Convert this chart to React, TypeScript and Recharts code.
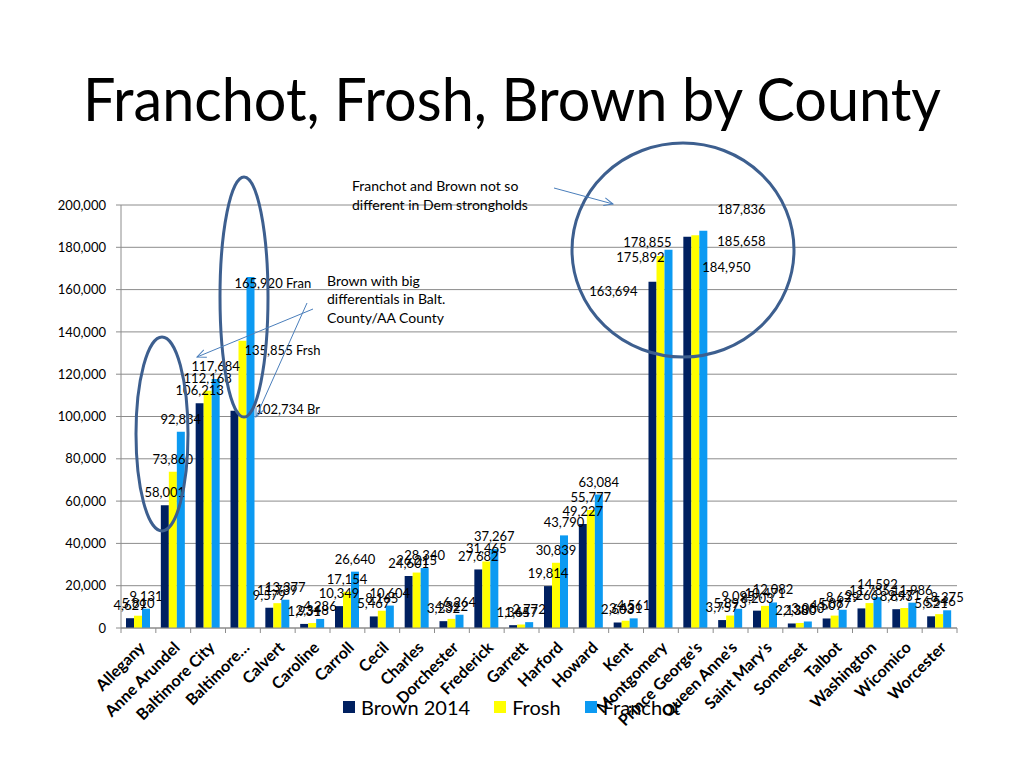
import { BarChart, Bar, XAxis, YAxis, CartesianGrid, Legend, LabelList } from 'recharts'

const counties = [
  'Allegany', 'Anne Arundel', 'Baltimore City', 'Baltimore…', 'Calvert', 'Caroline',
  'Carroll', 'Cecil', 'Charles', 'Dorchester', 'Frederick', 'Garrett', 'Harford',
  'Howard', 'Kent', 'Montgomery', "Prince George's", "Queen Anne's", "Saint Mary's",
  'Somerset', 'Talbot', 'Washington', 'Wicomico', 'Worcester',
]

const brown2014 = [
  4629, 58001, 106213, 102734, 9579, 1931, 10349, 5467, 24601, 3232, 27682, 1345,
  19814, 49227, 2603, 163694, 184950, 3757, 8203, 2138, 4507, 9266, 8893, 5521,
]
const frosh = [
  5810, 73860, 112168, 135855, 11739, 2348, 17154, 8165, 26215, 4322, 31465, 1647,
  30839, 55777, 3431, 175892, 185658, 5893, 10471, 2380, 5867, 11785, 9471, 6546,
]
const franchot = [
  9131, 92834, 117684, 165920, 13377, 4286, 26640, 10604, 28340, 6264, 37267, 2772,
  43790, 63084, 4561, 178855, 187836, 9095, 12082, 3080, 8629, 14592, 11986, 8375,
]

const yTicks = [0, 20000, 40000, 60000, 80000, 100000, 120000, 140000, 160000, 180000, 200000]

const chartData = counties.map((county, i) => ({
  county,
  brown: brown2014[i],
  frosh: frosh[i],
  franchot: franchot[i],
}))

const seriesValues: Record<string, number[]> = { brown: brown2014, frosh, franchot }

const COLORS = { brown: '#002060', frosh: '#FFFF00', franchot: '#0C9AF2' }
const legendItems = [
  { name: 'Brown 2014', color: COLORS.brown },
  { name: 'Frosh', color: COLORS.frosh },
  { name: 'Franchot', color: COLORS.franchot },
]
const GRID = '#8C8C8C'
const FONT = 'Lato, "Open Sans", sans-serif'

const PLOT_LEFT = 121
const PLOT_RIGHT = 957
const BAND = (PLOT_RIGHT - PLOT_LEFT) / counties.length
const LEGEND_H = 26

// hand-moved labels in the original slide
const LABEL_TWEAKS: Record<string, { dx: number; dy: number; anchor: 'start' | 'end'; suffix?: string }> = {
  'brown:Baltimore…': { dx: 21, dy: -2, anchor: 'start', suffix: ' Br' },
  'frosh:Baltimore…': { dx: 2, dy: 9, anchor: 'start', suffix: ' Frsh' },
  'franchot:Baltimore…': { dx: -16, dy: 6, anchor: 'start', suffix: ' Fran' },
  'brown:Montgomery': { dx: -15, dy: 9, anchor: 'end' },
  'frosh:Montgomery': { dx: 4, dy: 1, anchor: 'end' },
  'franchot:Montgomery': { dx: 3, dy: -8, anchor: 'end' },
  "brown:Prince George's": { dx: 15, dy: 30, anchor: 'start' },
  "frosh:Prince George's": { dx: 22, dy: 6, anchor: 'start' },
  "franchot:Prince George's": { dx: 14, dy: -22, anchor: 'start' },
}

const makeLabel = (series: string) => (props: any) => {
  const vb = props.viewBox ?? props
  const x = Number(vb.x ?? props.x)
  const y = Number(vb.y ?? props.y)
  const w = Number(vb.width ?? props.width)
  const value = Number(props.value)
  let idx = props.index
  if (idx === undefined || idx === null) idx = seriesValues[series].indexOf(value)
  const tweak = LABEL_TWEAKS[`${series}:${counties[idx]}`]
  const cx = x + w / 2
  return (
    <text
      x={cx + (tweak?.dx ?? 0)}
      y={y + (tweak?.dy ?? -13)}
      textAnchor={tweak?.anchor ?? 'middle'}
      dominantBaseline="central"
      fontSize={13}
      fontFamily={FONT}
      fill="#000"
    >
      {value.toLocaleString('en-US') + (tweak?.suffix ?? '')}
    </text>
  )
}

const CountyTick = (props: any) => {
  const { x, y, payload, index } = props
  const ax = x + 3
  const ay = y + 16
  return (
    <g>
      <line x1={x - BAND / 2} x2={x - BAND / 2} y1={y} y2={y + 5} stroke={GRID} />
      {index === counties.length - 1 && (
        <line x1={x + BAND / 2} x2={x + BAND / 2} y1={y} y2={y + 5} stroke={GRID} />
      )}
      <text
        x={ax}
        y={ay}
        transform={`rotate(-45 ${ax} ${ay})`}
        textAnchor="end"
        dominantBaseline="central"
        fontSize={16}
        fontWeight="bold"
        fontFamily={FONT}
        fill="#000"
      >
        {payload.value}
      </text>
    </g>
  )
}

const LegendRow = () => (
  <div style={{ display: 'flex', fontFamily: FONT, fontSize: 20, color: '#000', height: LEGEND_H }}>
    {legendItems.map((item) => (
      <div key={item.name} style={{ display: 'flex', alignItems: 'center', marginRight: 24 }}>
        <span style={{ width: 12, height: 12, background: item.color, marginRight: 6 }} />
        <span>{item.name}</span>
      </div>
    ))}
  </div>
)

export default function App() {
  return (
    <div style={{ position: 'absolute', left: 0, top: 0, width: 1024, height: 768, background: '#fff' }}>
      <BarChart
        width={1024}
        height={768}
        data={chartData}
        margin={{ top: 205, right: 1024 - PLOT_RIGHT, bottom: 0, left: 0 }}
        barGap={0}
      >
        <CartesianGrid vertical={false} stroke={GRID} />
        <XAxis
          dataKey="county"
          interval={0}
          height={140 - LEGEND_H}
          tickLine={false}
          tickSize={0}
          tickMargin={0}
          axisLine={{ stroke: GRID }}
          tick={<CountyTick />}
        />
        <YAxis
          width={PLOT_LEFT}
          domain={[0, 200000]}
          ticks={yTicks}
          interval={0}
          tickSize={5}
          tickMargin={10}
          tickLine={{ stroke: GRID }}
          axisLine={{ stroke: GRID }}
          tickFormatter={(v: number) => v.toLocaleString('en-US')}
          tick={{ fill: '#000', fontSize: 13, fontFamily: FONT }}
        />
        <Legend
          content={<LegendRow />}
          wrapperStyle={{ position: 'absolute', left: 343, top: 694, width: 500, height: LEGEND_H }}
        />
        <Bar dataKey="brown" name="Brown 2014" fill={COLORS.brown} barSize={8} isAnimationActive={false}>
          <LabelList dataKey="brown" content={makeLabel('brown')} />
        </Bar>
        <Bar dataKey="frosh" name="Frosh" fill={COLORS.frosh} barSize={8} isAnimationActive={false}>
          <LabelList dataKey="frosh" content={makeLabel('frosh')} />
        </Bar>
        <Bar dataKey="franchot" name="Franchot" fill={COLORS.franchot} barSize={8} isAnimationActive={false}>
          <LabelList dataKey="franchot" content={makeLabel('franchot')} />
        </Bar>
      </BarChart>

      <svg
        width={1024}
        height={768}
        style={{ position: 'absolute', left: 0, top: 0, pointerEvents: 'none' }}
      >
        <defs>
          <marker id="arrow" viewBox="0 0 10 10" refX="9" refY="5" markerWidth="10" markerHeight="10" orient="auto">
            <path d="M0,1 L9,5 L0,9" fill="none" stroke="#4A7EBB" strokeWidth={1} />
          </marker>
        </defs>
        <text
          x={512}
          y={121}
          textAnchor="middle"
          fontSize={60}
          fontFamily={FONT}
          fill="#000"
          textLength={858}
          lengthAdjust="spacingAndGlyphs"
        >
          Franchot, Frosh, Brown by County
        </text>

        <ellipse cx={162} cy={434} rx={26} ry={97} fill="none" stroke="#3D5F8F" strokeWidth={3} />
        <ellipse cx={244} cy={297} rx={24} ry={120} fill="none" stroke="#3D5F8F" strokeWidth={3} />
        <ellipse cx={683} cy={250} rx={111} ry={107} fill="none" stroke="#3D5F8F" strokeWidth={3} />

        <g fontFamily={FONT} fontSize={14} fill="#000">
          <text x={352} y={185} dominantBaseline="central">Franchot and Brown not so</text>
          <text x={352} y={204} dominantBaseline="central">different in Dem strongholds</text>
          <text x={327} y={280} dominantBaseline="central">Brown with big</text>
          <text x={327} y={298} dominantBaseline="central">differentials in Balt.</text>
          <text x={327} y={317} dominantBaseline="central">County/AA County</text>
        </g>

        <line x1={554} y1={188} x2={613} y2={204} stroke="#4A7EBB" strokeWidth={1} markerEnd="url(#arrow)" />
        <line x1={313} y1={309} x2={197} y2={357} stroke="#4A7EBB" strokeWidth={1} markerEnd="url(#arrow)" />
        <line x1={307} y1={303} x2={256} y2={417} stroke="#4A7EBB" strokeWidth={1} markerEnd="url(#arrow)" />
      </svg>
    </div>
  )
}
